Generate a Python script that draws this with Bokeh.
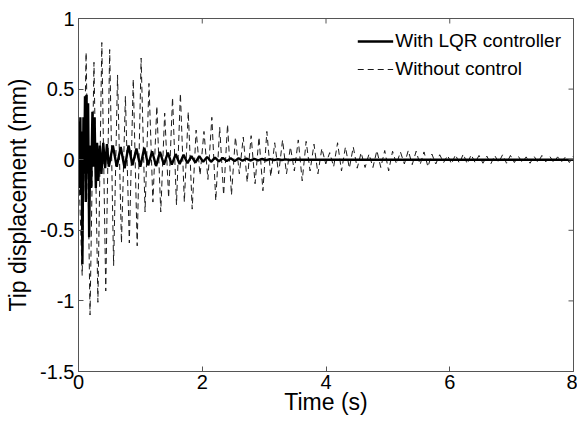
import numpy as np
from bokeh.plotting import figure
from bokeh.models import FixedTicker, Legend, LegendItem, Range1d
from bokeh.embed import file_html
from bokeh.resources import INLINE

# ---------------- data ----------------
x_min, x_max = 0, 8
y_min, y_max = -1.5, 1
x_ticks = [0, 2, 4, 6, 8]
x_tick_labels = ["0", "2", "4", "6", "8"]
y_ticks = [-1.5, -1, -0.5, 0, 0.5, 1]
y_tick_labels = ["-1.5", "-1", "-0.5", "0", "0.5", "1"]

x_label = "Time (s)"
y_label = "Tip displacement (mm)"
name_lqr = "With LQR controller"
name_nc = "Without control"

# Without control: extremes of the oscillation (period ~0.127 s)
nc_first_peak_t = 0.123
nc_period = 0.127
nc_peaks = [0.76, 0.69, 0.83, 0.78, 0.60, 0.45, 0.57, 0.72, 0.54, 0.38,
            0.33, 0.44, 0.47, 0.34, 0.21, 0.20, 0.30, 0.23, 0.25, 0.16,
            0.16, 0.17, 0.16, 0.20, 0.12, 0.14, 0.09, 0.14, 0.13, 0.11,
            0.08, 0.05, 0.12, 0.09, 0.09, 0.05, 0.04, 0.065, 0.065, 0.06,
            0.055, 0.065, 0.06, 0.055, 0.04, 0.035, 0.03,
            0.035, 0.04, 0.035, 0.03, 0.025, 0.03, 0.035, 0.03, 0.025,
            0.02, 0.025, 0.03, 0.025, 0.02, 0.02, 0.025]
nc_troughs = [-0.82, -1.10, -1.01, -0.93, -0.75, -0.59, -0.59, -0.61, -0.37, -0.30,
              -0.37, -0.27, -0.32, -0.30, -0.35, -0.11, -0.14, -0.29, -0.25, -0.25,
              -0.10, -0.16, -0.17, -0.22, -0.12, -0.10, -0.10, -0.08, -0.15, -0.08,
              -0.10, -0.03, -0.05, -0.08, -0.06, -0.06, -0.055, -0.055, -0.055, -0.08,
              -0.03, -0.03, -0.035, -0.035, -0.05, -0.03, -0.02,
              -0.03, -0.025, -0.03, -0.02, -0.025, -0.03, -0.02, -0.025, -0.02,
              -0.02, -0.025, -0.02, -0.015, -0.02, -0.015, -0.02]

# With LQR controller: early transient
lqr_early_t = [0.000, 0.010, 0.020, 0.030, 0.040, 0.050, 0.063, 0.080, 0.092, 0.105,
               0.118, 0.130, 0.143, 0.155, 0.172, 0.190, 0.205, 0.225, 0.245, 0.260,
               0.280, 0.300, 0.320, 0.345, 0.370, 0.400, 0.430, 0.460, 0.490]
lqr_early_v = [0.00, 0.27, -0.20, 0.30, -0.25, 0.20, -0.74, 0.30, -0.10, 0.45,
               -0.30, 0.46, -0.10, 0.40, -0.55, 0.10, -0.20, 0.34, -0.05, 0.30,
               -0.20, 0.12, -0.15, 0.10, -0.10, 0.12, -0.06, 0.11, -0.05]
# With LQR controller: residual small wiggles (half-period ~0.0635 s)
lqr_late_t0 = 0.555
lqr_late_step = 0.0635
lqr_late_v = [0.10, -0.05, 0.09, -0.06, 0.10, -0.04, 0.08, -0.05, 0.085, -0.04,
              0.06, -0.045, 0.055, -0.035, 0.05, -0.035, 0.04, -0.03, 0.035, -0.025,
              0.025, -0.02, 0.025, -0.015, 0.02, -0.015, 0.015, -0.012, 0.012, -0.01,
              0.01, -0.01, 0.01, -0.008, 0.008, -0.006, 0.006, -0.005, 0.005, -0.004,
              0.004, -0.003, 0.003, -0.002, 0.002, -0.002, 0.001]
lqr_tail_t = [3.55, 8.0]
lqr_tail_v = [0.0, 0.0]

# ---------------- build series ----------------
nc_t = [0.0]
nc_v = [0.0]
for k in range(len(nc_peaks)):
    tp = nc_first_peak_t + k * nc_period
    nc_t.append(tp - nc_period / 2)
    nc_v.append(nc_troughs[k])
    nc_t.append(tp)
    nc_v.append(nc_peaks[k])

lqr_t = list(lqr_early_t) + [lqr_late_t0 + i * lqr_late_step for i in range(len(lqr_late_v))] + lqr_tail_t
lqr_v = list(lqr_early_v) + list(lqr_late_v) + lqr_tail_v

# ---------------- figure ----------------
FONT = "Liberation Sans"
AX_COLOR = "#555555"

p = figure(width=577, height=421, output_backend="svg", toolbar_location=None,
           x_range=Range1d(x_min, x_max), y_range=Range1d(y_min, y_max),
           min_border_left=78, min_border_right=4, min_border_top=18, min_border_bottom=50)
p.grid.visible = False
p.outline_line_color = AX_COLOR
p.outline_line_width = 1
p.background_fill_color = "white"
p.border_fill_color = "white"

r_nc = p.line(nc_t, nc_v, line_color="#1a1a1a", line_width=1, line_dash="6 4")
r_lqr = p.line(lqr_t, lqr_v, line_color="black", line_width=2.4)

# inward ticks on the top and right edges (box style); the outer half is clipped by the frame
p.scatter(x_ticks, [y_max] * len(x_ticks), marker="dash", size=10, angle=np.pi / 2,
          line_color=AX_COLOR, line_width=1)
p.scatter([x_max] * len(y_ticks), y_ticks, marker="dash", size=10, angle=0,
          line_color=AX_COLOR, line_width=1)

def style_axis(ax, ticks, labels):
    ax.ticker = FixedTicker(ticks=ticks)
    ax.major_label_overrides = {t: l for t, l in zip(ticks, labels)}
    ax.minor_tick_line_color = None
    ax.major_tick_in = 5
    ax.major_tick_out = 0
    ax.axis_line_color = AX_COLOR
    ax.major_tick_line_color = AX_COLOR
    ax.major_label_text_font = FONT
    ax.major_label_text_color = "black"
    ax.major_label_text_font_size = "20px"
    ax.axis_label_text_font = FONT
    ax.axis_label_text_font_style = "normal"
    ax.axis_label_text_color = "black"
    ax.axis_label_text_font_size = "23px"

xa = p.xaxis[0]
style_axis(xa, x_ticks, x_tick_labels)
xa.axis_label = x_label
xa.major_label_standoff = 3
xa.axis_label_standoff = -3

ya = p.yaxis[0]
style_axis(ya, y_ticks, y_tick_labels)
ya.axis_label = y_label
ya.major_label_standoff = 4
ya.axis_label_standoff = 6

legend = Legend(items=[LegendItem(label=name_lqr, renderers=[r_lqr]),
                       LegendItem(label=name_nc, renderers=[r_nc])],
                location="top_right")
legend.background_fill_alpha = 0
legend.border_line_alpha = 0
legend.label_text_font = FONT
legend.label_text_font_size = "19px"
legend.label_text_color = "black"
legend.glyph_width = 36
legend.glyph_height = 20
legend.label_height = 20
legend.label_standoff = 2
legend.spacing = 6
legend.padding = 10
legend.margin = 2
p.add_layout(legend)

open("out.html", "w").write(file_html(p, INLINE))
